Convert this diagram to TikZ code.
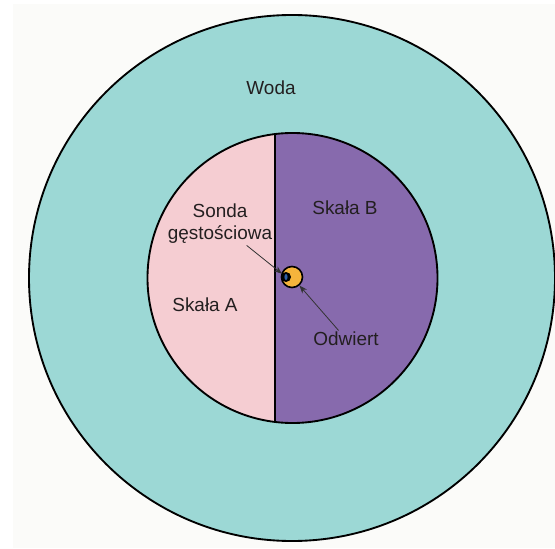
\documentclass[tikz,border=0pt]{standalone}
\usepackage{fontspec}
\setmainfont{Liberation Sans}
\usetikzlibrary{positioning,arrows.meta}
\definecolor{tlo}{HTML}{FBFBF9}
\definecolor{wodakolor}{HTML}{9CD8D5}
\definecolor{skalaAkolor}{HTML}{F5CDD2}
\definecolor{skalaBkolor}{HTML}{876AAD}
\definecolor{otworkolor}{HTML}{F5B43C}
\definecolor{tekst}{HTML}{231F20}
\definecolor{strzalka}{HTML}{333333}
\definecolor{sondaniebieska}{HTML}{2E5FA8}

\begin{document}
\begin{tikzpicture}[x=0.75pt,y=-0.75pt,
    lbl/.style={font=\fontsize{14.2}{16.5}\selectfont, text=tekst, align=center, inner sep=1pt},
    ptr/.style={draw=strzalka, line width=0.6pt, -{Stealth[length=6pt,width=4.5pt]}},
    edge/.style={draw=black, line width=1.4pt}
  ]
  \useasboundingbox (0,0) rectangle (555,548);
  \fill[tlo] (13,4) rectangle (555,548);

  % water ring
  \fill[wodakolor] (292,278) circle [radius=263];
  \draw[edge] (292,278) circle [radius=263];

  % two rocks
  \fill[skalaBkolor] (292.5,278) circle [radius=145];
  \begin{scope}
    \clip (292.5,278) circle [radius=145];
    \fill[skalaAkolor] (140,120) rectangle (275,440);
    \draw[edge] (275,120) -- (275,440);
  \end{scope}
  \draw[edge] (292.5,278) circle [radius=145];

  % borehole with probe
  \node[circle, draw=black, line width=1.2pt, fill=otworkolor, minimum size=15.75pt, inner sep=0pt] (otwor) at (292,277) {};
  \node[circle, fill=black, minimum size=7.5pt, inner sep=0pt] (sonda) at (286,277) {};
  \fill[sondaniebieska] (sonda.center) ellipse [x radius=1.6, y radius=3];

  \node[lbl] (woda) at (271,88) {Woda};
  \node[lbl] (skalaA) at (205,305) {Skała A};
  \node[lbl] (skalaB) at (345,208) {Skała B};
  \node[lbl] (sondalbl) at (220,224) {Sonda\\gęstościowa};
  \node[lbl] (odwiertlbl) at (346,339) {Odwiert};

  \draw[ptr] (sondalbl) -- (sonda);
  \draw[ptr] (odwiertlbl) -- (otwor);
\end{tikzpicture}
\end{document}
